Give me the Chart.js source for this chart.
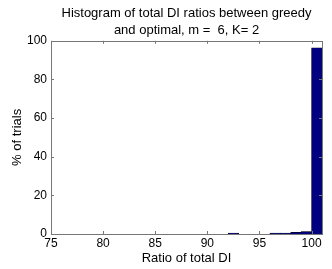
<!DOCTYPE html>
<html>
<head>
<meta charset="utf-8">
<script src="https://cdn.jsdelivr.net/npm/chart.js@4"></script>
<style>
html, body { margin: 0; padding: 0; background: #fff; }
#wrap { width: 332px; height: 269px; }
</style>
</head>
<body>
<div id="wrap"><canvas id="histChart" width="332" height="269"></canvas></div>
<script>
// bin centres (ratio of total DI, %) and share of trials
const binCentres = [92.5, 96.5, 97.5, 98.5, 99.5, 100.5];
const pctTrials = [0.5, 0.5, 0.5, 0.8, 1.3, 96.4];
const xTicks = [75, 80, 85, 90, 95, 100];
const yTicks = [0, 20, 40, 60, 80, 100];

const fontFam = '"Liberation Sans", Arial, sans-serif';

// matlab-style box with inward ticks on all four sides
const boxTicks = {
  id: 'boxTicks',
  afterDatasetsDraw(chart) {
    const { ctx, chartArea: a, scales } = chart;
    ctx.save();
    ctx.strokeStyle = '#777';
    ctx.lineWidth = 1;
    ctx.beginPath();
    xTicks.forEach(v => {
      const px = Math.round(scales.x.getPixelForValue(v)) + 0.5;
      ctx.moveTo(px, a.bottom); ctx.lineTo(px, a.bottom - 3);
      ctx.moveTo(px, a.top); ctx.lineTo(px, a.top + 3);
    });
    yTicks.forEach(v => {
      const py = Math.round(scales.y.getPixelForValue(v)) + 0.5;
      ctx.moveTo(a.left, py); ctx.lineTo(a.left + 3, py);
      ctx.moveTo(a.right, py); ctx.lineTo(a.right - 3, py);
    });
    ctx.stroke();
    ctx.strokeRect(Math.round(a.left) + 0.5, Math.round(a.top) + 0.5,
      Math.round(a.right - a.left), Math.round(a.bottom - a.top));
    ctx.restore();
  }
};

new Chart(document.getElementById('histChart'), {
  type: 'bar',
  data: {
    datasets: [{
      data: binCentres.map((c, i) => ({ x: c, y: pctTrials[i] })),
      backgroundColor: '#000080',
      borderColor: '#000000',
      borderWidth: 0.5,
      barPercentage: 1,
      categoryPercentage: 1
    }]
  },
  options: {
    responsive: false,
    animation: false,
    layout: { padding: { left: 0, right: 10, top: 0, bottom: 0 } },
    plugins: {
      legend: { display: false },
      tooltip: { enabled: false },
      title: {
        display: true,
        fullSize: false,
        text: ['Histogram of total DI ratios between greedy', 'and optimal, m =  6, K= 2'],
        color: '#000',
        font: { family: fontFam, size: 13, weight: 'normal', lineHeight: 1.3 },
        padding: { top: 5, bottom: 2 }
      }
    },
    scales: {
      x: {
        type: 'linear',
        min: 75,
        max: 101,
        offset: false,
        afterBuildTicks: s => { s.ticks = xTicks.map(v => ({ value: v })); },
        afterFit: s => { s.height = 35; },
        grid: { display: false, drawTicks: false, tickLength: 0 },
        border: { display: false },
        ticks: { color: '#000', font: { family: fontFam, size: 12 }, padding: 2, maxRotation: 0 },
        title: {
          display: true,
          text: 'Ratio of total DI',
          color: '#000',
          font: { family: fontFam, size: 13 },
          padding: { top: 0, bottom: 3 }
        }
      },
      y: {
        min: 0,
        max: 100,
        afterBuildTicks: s => { s.ticks = yTicks.map(v => ({ value: v })); },
        afterFit: s => { s.width = 51; },
        grid: { display: false, drawTicks: false, tickLength: 0 },
        border: { display: false },
        ticks: { color: '#000', font: { family: fontFam, size: 12 }, padding: 4 },
        title: {
          display: true,
          text: '% of trials',
          color: '#000',
          font: { family: fontFam, size: 13 },
          padding: { top: 10, bottom: 0 }
        }
      }
    }
  },
  plugins: [boxTicks]
});
</script>
</body>
</html>
